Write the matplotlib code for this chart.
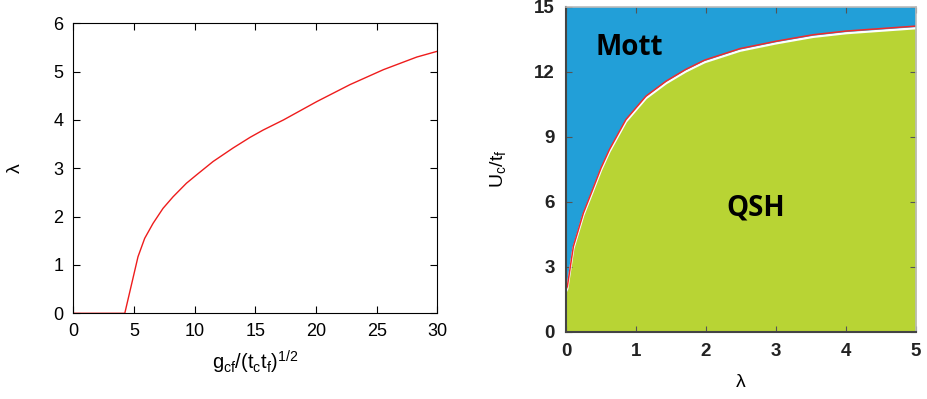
import matplotlib

matplotlib.use("Agg")
import matplotlib.pyplot as plt
import numpy as np

plt.rcParams["font.family"] = ["Liberation Sans", "DejaVu Sans"]
plt.rcParams["mathtext.default"] = "regular"

# left panel: lambda vs g_cf/(t_c t_f)^(1/2)
g_vals = [0.0, 4.24, 5.33, 5.88, 6.57, 7.39, 8.22, 9.32, 10.14, 11.52, 13.17,
          14.57, 15.64, 17.32, 20.07, 22.8, 25.56, 28.3, 30.0]
lam_vals = [0.0, 0.0, 1.17, 1.55, 1.86, 2.17, 2.41, 2.69, 2.86, 3.14, 3.42,
            3.64, 3.79, 4.0, 4.38, 4.73, 5.04, 5.30, 5.42]

# right panel: phase boundary U_c/t_f vs lambda
lam_b = [0.0, 0.019, 0.105, 0.248, 0.38, 0.5, 0.62, 0.857, 1.143, 1.43,
         1.71, 1.98, 2.486, 3.0, 3.53, 4.0, 5.0]
uc_b = [1.95, 2.08, 3.93, 5.47, 6.55, 7.55, 8.4, 9.79, 10.87, 11.56,
        12.1, 12.53, 13.06, 13.4, 13.7, 13.87, 14.1]

fig = plt.figure(figsize=(9.27, 3.99), dpi=100)

ax1 = fig.add_axes([0.0791, 0.2148, 0.3927, 0.727])
ax1.plot(g_vals, lam_vals, color="#ee1c1c", linewidth=1)
ax1.set_xlim(0, 30)
ax1.set_ylim(0, 6)
ax1.set_xticks(range(0, 31, 5))
ax1.set_yticks(range(0, 7))
ax1.tick_params(direction="in", top=True, right=True, length=5, labelsize=13, pad=7)
ax1.set_xlabel(r"$g_{cf}/(t_ct_f)^{1/2}$", fontsize=14.5, labelpad=6)
ax1.set_ylabel("λ", fontsize=14)
ax1.yaxis.set_label_coords(-0.135, 0.5)

ax2 = fig.add_axes([0.6106, 0.169, 0.3776, 0.8145])
blue = "#229fd8"
green = "#b8d434"
ax2.fill_between([0, 5], 0, 15, color=blue, linewidth=0)
ax2.fill_between(lam_b, 0, np.array(uc_b) - 0.1, color=green, linewidth=0)
ax2.plot(lam_b, np.array(uc_b) - 0.1, color="white", linewidth=1.6)
ax2.plot(lam_b, uc_b, color="#f02a2a", linewidth=1.1)
ax2.set_xlim(0, 5)
ax2.set_ylim(0, 15)
ax2.set_xticks(range(0, 6))
ax2.set_yticks(range(0, 16, 3))
ax2.tick_params(direction="in", top=True, right=True, length=4, labelsize=13.5, pad=8,
                color="#555555")
for lab in ax2.get_xticklabels() + ax2.get_yticklabels():
    lab.set_fontweight("bold")
    lab.set_color("#222222")
for side in ["left", "bottom"]:
    ax2.spines[side].set_color("#444444")
    ax2.spines[side].set_linewidth(1.5)
for side in ["top", "right"]:
    ax2.spines[side].set_color("#bbbbbb")
    ax2.spines[side].set_linewidth(1.2)
ax2.set_xlabel("λ", fontsize=14, labelpad=10)
ax2.set_ylabel(r"$U_c/t_f$", fontsize=14)
ax2.yaxis.set_label_coords(-0.166, 0.5)
ax2.text(0.91, 13.1, "Mott", fontsize=20, fontweight="bold", family="Open Sans",
         ha="center", va="center")
ax2.text(2.71, 5.7, "QSH", fontsize=20, fontweight="bold", family="Open Sans",
         ha="center", va="center")

fig.savefig("out.png", dpi=100)
